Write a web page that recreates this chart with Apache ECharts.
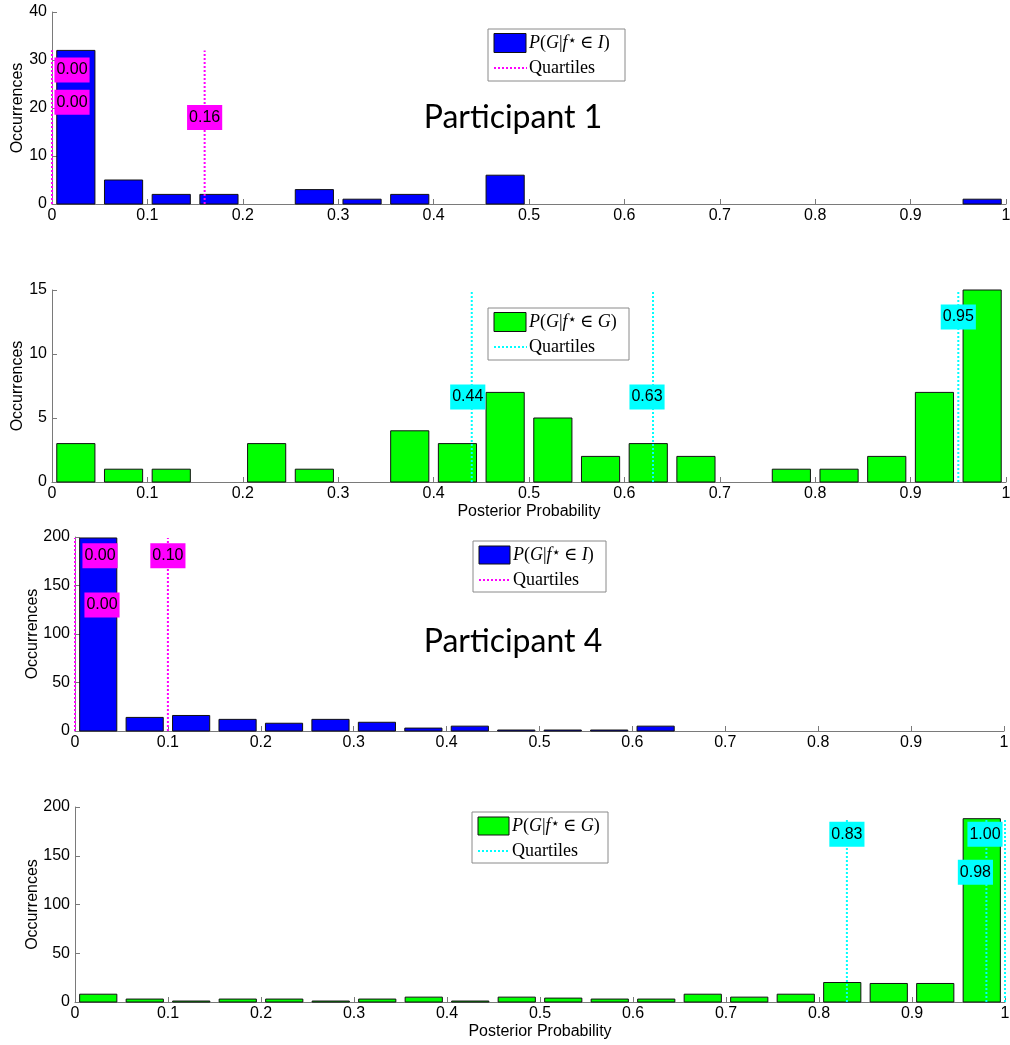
<!DOCTYPE html>
<html>
<head>
<meta charset="utf-8">
<script src="https://cdn.jsdelivr.net/npm/echarts@6/dist/echarts.min.js"></script>
<style>
  html, body { margin: 0; padding: 0; background: #fff; }
  #chart { width: 1010px; height: 1045px; }
</style>
</head>
<body>
<div id="chart"></div>
<script>
// Histogram bins of the posterior probability (bin width 0.05)
const binCenters = [0.025, 0.075, 0.125, 0.175, 0.225, 0.275, 0.325, 0.375, 0.425, 0.475,
                    0.525, 0.575, 0.625, 0.675, 0.725, 0.775, 0.825, 0.875, 0.925, 0.975];

// Participant 1
const p1Ineffective = [32, 5, 2, 2, 0, 3, 1, 2, 0, 6, 0, 0, 0, 0, 0, 0, 0, 0, 0, 1];
const p1Effective   = [3, 1, 1, 0, 3, 1, 0, 4, 3, 7, 5, 2, 3, 2, 0, 1, 1, 2, 7, 15];
const p1IneffectiveQuartiles = [0.00, 0.00, 0.16];
const p1EffectiveQuartiles   = [0.44, 0.63, 0.95];

// Participant 4
const p4Ineffective = [199, 14, 16, 12, 8, 12, 9, 3, 5, 1, 1, 1, 5, 0, 0, 0, 0, 0, 0, 0];
const p4Effective   = [8, 3, 1, 3, 3, 1, 3, 5, 1, 5, 4, 3, 3, 8, 5, 8, 20, 19, 19, 188];
const p4IneffectiveQuartiles = [0.00, 0.00, 0.10];
const p4EffectiveQuartiles   = [0.83, 0.98, 1.00];

const titles = ['Participant 1', 'Participant 4'];

const SANS = '"Liberation Sans", Arial, sans-serif';
const SERIF = '"Liberation Serif", "Times New Roman", "DejaVu Serif", serif';
const AXIS_GREY = '#7a7a7a';
const BAR_HALF = 0.02;

// Panel layout and styling
const panels = [
  { values: p1Ineffective, quart: p1IneffectiveQuartiles, set: 'I',
    left: 52, right: 4, top: 12, height: 192, yMax: 40, yStep: 10,
    fill: '#0000ff', qColor: '#ff00ff', labelY: [27.9, 21.2, 18.0], labelDx: [20, 20, 0],
    yNameGap: 26, xName: '',
    legend: { x: 488, y: 29, w: 137, h: 52, pw: 32, ph: 19 } },
  { values: p1Effective, quart: p1EffectiveQuartiles, set: 'G',
    left: 52, right: 4, top: 290, height: 192, yMax: 15, yStep: 5,
    fill: '#00ff00', qColor: '#00ffff', labelY: [6.65, 6.65, 12.9], labelDx: [-4, -6, 0],
    yNameGap: 26, xName: 'Posterior Probability',
    legend: { x: 488, y: 308, w: 141, h: 52, pw: 32, ph: 19 } },
  { values: p4Ineffective, quart: p4IneffectiveQuartiles, set: 'I',
    left: 75, right: 6, top: 537, height: 194, yMax: 200, yStep: 50,
    fill: '#0000ff', qColor: '#ff00ff', labelY: [180.7, 130, 180.7], labelDx: [25, 27, 0],
    yNameGap: 34, xName: '',
    legend: { x: 473, y: 541, w: 133, h: 51, pw: 31, ph: 18 } },
  { values: p4Effective, quart: p4EffectiveQuartiles, set: 'G',
    left: 75, right: 5, top: 807, height: 195, yMax: 200, yStep: 50,
    fill: '#00ff00', qColor: '#00ffff', labelY: [172, 133, 172], labelDx: [0, -11, -20],
    yNameGap: 34, xName: 'Posterior Probability',
    legend: { x: 472, y: 812, w: 136, h: 51, pw: 31, ph: 18 } }
];

const axisLineStyle = { color: AXIS_GREY, width: 1 };

function xLabel(v) {
  if (v === 0) return '0';
  if (Math.abs(v - 1) < 1e-9) return '1';
  return String(+v.toFixed(1));
}

const grids = panels.map(p => ({ left: p.left, right: p.right, top: p.top, height: p.height,
  containLabel: false, outerBoundsMode: 'none' }));

const xAxes = panels.map((p, i) => ({
  gridIndex: i, type: 'value', min: 0, max: 1, interval: 0.1,
  axisLine: { show: true, onZero: false, lineStyle: axisLineStyle },
  axisTick: { show: true, inside: true, length: 5, lineStyle: axisLineStyle },
  axisLabel: { color: '#000', fontSize: 16, fontFamily: SANS, margin: 4, formatter: xLabel },
  splitLine: { show: false },
  name: p.xName, nameLocation: 'middle', nameGap: 22,
  nameTextStyle: { color: '#000', fontSize: 16, fontFamily: SANS }
}));

const yAxes = panels.map((p, i) => ({
  gridIndex: i, type: 'value', min: 0, max: p.yMax, interval: p.yStep,
  axisLine: { show: true, lineStyle: axisLineStyle },
  axisTick: { show: true, inside: true, length: 5, lineStyle: axisLineStyle },
  axisLabel: { color: '#000', fontSize: 16, fontFamily: SANS, margin: 5 },
  splitLine: { show: false },
  name: 'Occurrences', nameLocation: 'middle', nameGap: p.yNameGap, nameRotate: 90,
  nameMoveOverlap: false,
  nameTextStyle: { color: '#000', fontSize: 16, fontFamily: SANS }
}));

// Histogram bars
const barSeries = panels.map((p, i) => ({
  type: 'custom', xAxisIndex: i, yAxisIndex: i, z: 2,
  data: binCenters.map((c, k) => [c, p.values[k]]),
  renderItem: (params, api) => {
    const c = api.value(0), v = api.value(1);
    if (!v) return null;
    const a = api.coord([c - BAR_HALF, 0]);
    const b = api.coord([c + BAR_HALF, v]);
    return {
      type: 'rect',
      shape: { x: a[0], y: b[1], width: b[0] - a[0], height: a[1] - b[1] },
      style: { fill: p.fill, stroke: '#111', lineWidth: 1 }
    };
  }
}));

// Quartile markers: dotted line up to the tallest bin, plus a value tag
const quartileSeries = panels.map((p, i) => {
  const top = Math.max(...p.values);
  return {
    type: 'custom', xAxisIndex: i, yAxisIndex: i, z: 5, clip: false,
    data: p.quart.map((q, k) => [q, top, p.labelY[k]]),
    renderItem: (params, api) => {
      const q = api.value(0);
      const base = api.coord([q, 0]);
      const peak = api.coord([q, api.value(1)]);
      const tag = api.coord([q, api.value(2)]);
      return {
        type: 'group',
        children: [
          { type: 'line', shape: { x1: base[0], y1: base[1], x2: peak[0], y2: peak[1] },
            style: { stroke: p.qColor, lineWidth: 2, lineDash: [2, 2] } },
          { type: 'text', x: tag[0] + p.labelDx[params.dataIndex], y: tag[1], z2: 10,
            style: { text: q.toFixed(2), fill: '#000', fontSize: 16, fontFamily: SANS,
                     align: 'center', verticalAlign: 'middle',
                     backgroundColor: p.qColor, padding: [5, 2, 4, 2] } }
        ]
      };
    }
  };
});

// Legend boxes
function legendGraphic(p) {
  const L = p.legend;
  const textX = L.x + L.pw + 9;
  const row1 = L.y + 14, row2 = L.y + 39;
  return {
    type: 'group', z: 20,
    children: [
      { type: 'rect', shape: { x: L.x, y: L.y, width: L.w, height: L.h },
        style: { fill: '#fff', stroke: '#8a8a8a', lineWidth: 1 } },
      { type: 'rect', shape: { x: L.x + 6, y: row1 - L.ph / 2, width: L.pw, height: L.ph },
        style: { fill: p.fill, stroke: '#111', lineWidth: 1 } },
      { type: 'text', x: textX, y: row1,
        style: {
          text: '{it|P}{up|(}{it|G}{up||}{it|f}{sup|⋆}{up|∈ }{it|' + p.set + '}{up|)}',
          verticalAlign: 'middle', align: 'left',
          rich: {
            it: { fontFamily: SERIF, fontStyle: 'italic', fontSize: 18, fill: '#000' },
            up: { fontFamily: SERIF, fontSize: 18, fill: '#000' },
            sup: { fontFamily: '"DejaVu Sans", sans-serif', fontSize: 15, fill: '#000',
                   verticalAlign: 'top', padding: [0, 3, 0, 0] }
          }
        } },
      { type: 'line', shape: { x1: L.x + 6, y1: row2, x2: L.x + L.pw + 7, y2: row2 },
        style: { stroke: p.qColor, lineWidth: 2, lineDash: [2, 2] } },
      { type: 'text', x: textX, y: row2,
        style: { text: 'Quartiles', fontFamily: SERIF, fontSize: 18, fill: '#000',
                 verticalAlign: 'middle', align: 'left' } }
    ]
  };
}

const titleGraphics = [
  { type: 'text', x: 513, y: 118, z: 20,
    style: { text: titles[0], font: '32px Lato, "Open Sans", sans-serif', fill: '#000', align: 'center', verticalAlign: 'middle' } },
  { type: 'text', x: 513, y: 642, z: 20,
    style: { text: titles[1], font: '32px Lato, "Open Sans", sans-serif', fill: '#000', align: 'center', verticalAlign: 'middle' } }
];

const chart = echarts.init(document.getElementById('chart'), null, { renderer: 'canvas' });
chart.setOption({
  animation: false,
  backgroundColor: '#fff',
  grid: grids,
  xAxis: xAxes,
  yAxis: yAxes,
  series: barSeries.concat(quartileSeries),
  graphic: panels.map(legendGraphic).concat(titleGraphics)
});
</script>
</body>
</html>
